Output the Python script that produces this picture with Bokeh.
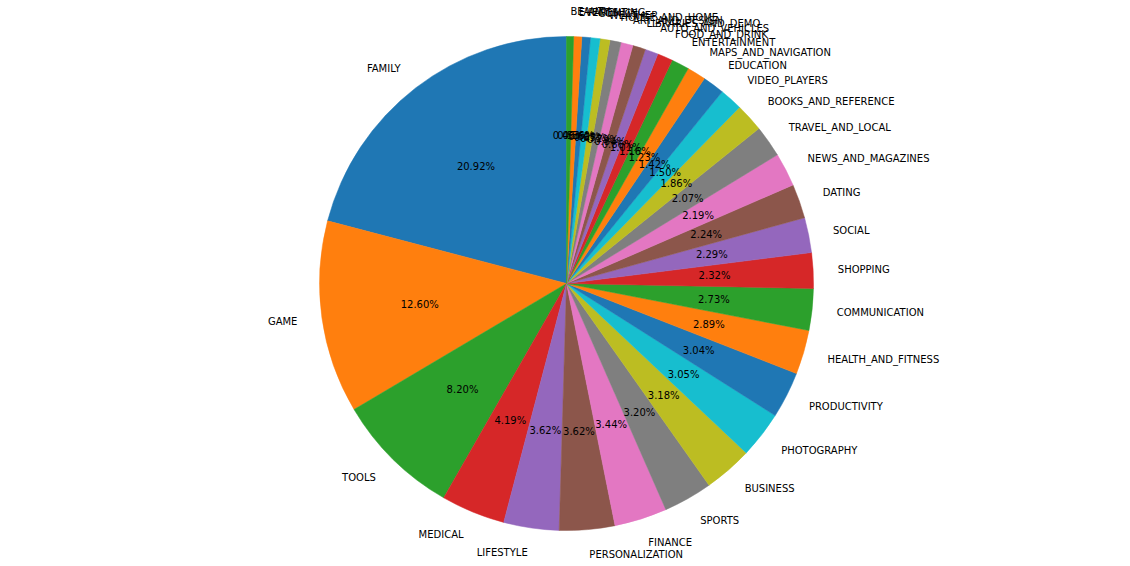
import math
from bokeh.plotting import figure
from bokeh.models import ColumnDataSource, Range1d
from bokeh.core.properties import value
from bokeh.embed import file_html
from bokeh.resources import INLINE

categories = ["FAMILY", "GAME", "TOOLS", "MEDICAL", "LIFESTYLE", "PERSONALIZATION",
              "FINANCE", "SPORTS", "BUSINESS", "PHOTOGRAPHY", "PRODUCTIVITY",
              "HEALTH_AND_FITNESS", "COMMUNICATION", "SHOPPING", "SOCIAL", "DATING",
              "NEWS_AND_MAGAZINES", "TRAVEL_AND_LOCAL", "BOOKS_AND_REFERENCE",
              "VIDEO_PLAYERS", "EDUCATION", "MAPS_AND_NAVIGATION", "ENTERTAINMENT",
              "FOOD_AND_DRINK", "AUTO_AND_VEHICLES", "LIBRARIES_AND_DEMO",
              "ART_AND_DESIGN", "HOUSE_AND_HOME", "WEATHER", "COMICS", "PARENTING",
              "EVENTS", "BEAUTY"]
shares = [20.92, 12.60, 8.20, 4.19, 3.62, 3.62, 3.44, 3.20, 3.18, 3.05, 3.04,
          2.89, 2.73, 2.32, 2.29, 2.24, 2.19, 2.07, 1.86, 1.50, 1.42, 1.23,
          1.16, 1.01, 0.86, 0.84, 0.79, 0.72, 0.65, 0.62, 0.56, 0.53, 0.46]
palette = ["#1f77b4", "#ff7f0e", "#2ca02c", "#d62728", "#9467bd",
           "#8c564b", "#e377c2", "#7f7f7f", "#bcbd22", "#17becf"]

total = sum(shares)
starts, ends, colors = [], [], []
lx, ly, align, px, py, ptxt = [], [], [], [], [], []
a = math.pi / 2
for i, s in enumerate(shares):
    w = 2 * math.pi * s / total
    starts.append(a)
    ends.append(a + w)
    colors.append(palette[i % 10])
    m = a + w / 2
    x, y = 1.1 * math.cos(m), 1.1 * math.sin(m)
    lx.append(x)
    ly.append(y)
    align.append("left" if x > 0 else "right")
    px.append(0.6 * math.cos(m))
    py.append(0.6 * math.sin(m))
    ptxt.append("%.2f%%" % (100 * s / total))
    a += w

src = ColumnDataSource(dict(start=starts, end=ends, color=colors, lx=lx, ly=ly,
                            align=align, px=px, py=py, ptxt=ptxt, cat=categories))

W, H = 1130, 566
R = 247.0
cx, cy = 566.0, 283.0
p = figure(width=W, height=H, output_backend="svg", toolbar_location=None,
           x_range=Range1d(-cx / R, (W - cx) / R), y_range=Range1d(-(H - cy) / R, cy / R),
           min_border=0)
p.axis.visible = False
p.xgrid.visible = False
p.ygrid.visible = False
p.outline_line_color = None
p.background_fill_color = "white"
p.border_fill_color = "white"

p.wedge(x=0, y=0, radius=1, start_angle="start", end_angle="end", direction="anticlock",
        fill_color="color", line_color="color", line_width=0.5, source=src)

p.text(x="lx", y="ly", text="cat", text_align="align", text_baseline="middle",
       text_font=value("DejaVu Sans"), text_font_size="10px", text_color="black", source=src)
p.text(x="px", y="py", text="ptxt", text_align="center", text_baseline="middle",
       text_font=value("DejaVu Sans"), text_font_size="10px", text_color="black", source=src)

open("out.html", "w").write(file_html(p, INLINE))
